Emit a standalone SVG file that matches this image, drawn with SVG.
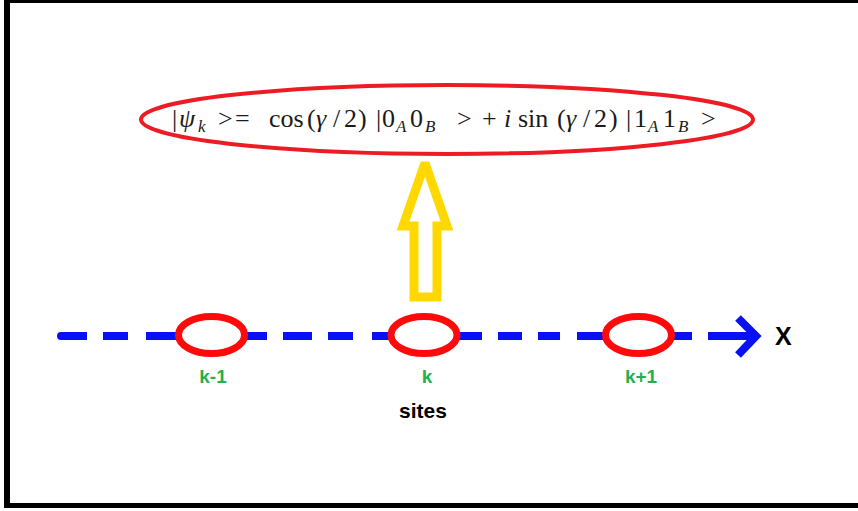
<svg xmlns="http://www.w3.org/2000/svg" width="858" height="511" viewBox="0 0 858 511">
<style>
.frame{fill:#000}
.eq{font-family:"Liberation Serif","DejaVu Serif",serif;font-size:26px;fill:#1a1a1a}
.it{font-style:italic}
.sub{font-size:17px;font-style:italic}
.site{fill:#fff;stroke:#ff0a0a;stroke-width:7}
.lbl{font-family:"Liberation Sans",Arial,sans-serif;font-weight:bold;font-size:19px;fill:#22b14c;text-anchor:middle}
.axis{stroke:#0a10f5;stroke-width:8;fill:none}
</style>
<rect width="858" height="511" fill="#fff"/>
<g id="frame">
<rect class="frame" x="4" y="0" width="854" height="3"/>
<rect class="frame" x="4" y="0" width="6" height="508"/>
<rect class="frame" x="4" y="503" width="854" height="5"/>
</g>
<g id="state">
<ellipse cx="447" cy="119.5" rx="306" ry="34.5" fill="none" stroke="#ed1c24" stroke-width="4"/>
<text class="eq" y="127"><tspan x="172">|</tspan><tspan x="179" class="it">ψ</tspan><tspan x="198" y="132" class="sub">k</tspan><tspan x="218" y="127">&gt;</tspan><tspan x="235">=</tspan><tspan x="269">cos</tspan><tspan x="307">(</tspan><tspan x="316" class="it">γ</tspan><tspan x="333">/</tspan><tspan x="344">2</tspan><tspan x="358">)</tspan><tspan x="376">|</tspan><tspan x="382">0</tspan><tspan x="396" y="132" class="sub">A</tspan><tspan x="410" y="127">0</tspan><tspan x="425" y="132" class="sub">B</tspan><tspan x="457" y="127">&gt;</tspan><tspan x="482">+</tspan><tspan x="504" class="it">i</tspan><tspan x="518">sin</tspan><tspan x="557">(</tspan><tspan x="566" class="it">γ</tspan><tspan x="583">/</tspan><tspan x="594">2</tspan><tspan x="609">)</tspan><tspan x="626">|</tspan><tspan x="634">1</tspan><tspan x="648" y="132" class="sub">A</tspan><tspan x="663" y="127">1</tspan><tspan x="678" y="132" class="sub">B</tspan><tspan x="701" y="127">&gt;</tspan></text>
</g>
<g id="connectors">
<polygon id="up-arrow" points="425,163 403,226 414,226 414,297 437,297 437,226 447,226" fill="#fff" stroke="#ffd800" stroke-width="9" stroke-linejoin="miter" stroke-miterlimit="2"/>
<path class="axis" d="M61 336 H87 M103 336 H128 M146 336 H180 M243 336 H267 M283 336 H312 M328 336 H353 M372 336 H395 M453 336 H482 M498 336 H522 M538 336 H560 M577 336 H606 M671 336 H692 M708 336 H755"/>
<circle cx="61" cy="336" r="4" fill="#0a10f5"/>
<polyline class="axis" points="738,318 756,336 738,355" stroke-width="6"/>
</g>
<g id="site-k-1">
<ellipse class="site" cx="211.5" cy="335" rx="33" ry="18.5"/>
<text class="lbl" x="213" y="383">k-1</text>
</g>
<g id="site-k">
<ellipse class="site" cx="424" cy="335" rx="33" ry="18.5"/>
<text class="lbl" x="427" y="383">k</text>
</g>
<g id="site-k+1">
<ellipse class="site" cx="638.5" cy="335" rx="33" ry="18.5"/>
<text class="lbl" x="641" y="383">k+1</text>
</g>
<text x="423" y="418" font-family="Liberation Sans,Arial,sans-serif" font-weight="bold" font-size="21" fill="#000" text-anchor="middle">sites</text>
<text x="775" y="345" font-family="Liberation Sans,Arial,sans-serif" font-weight="bold" font-size="25" fill="#000">X</text>
</svg>
